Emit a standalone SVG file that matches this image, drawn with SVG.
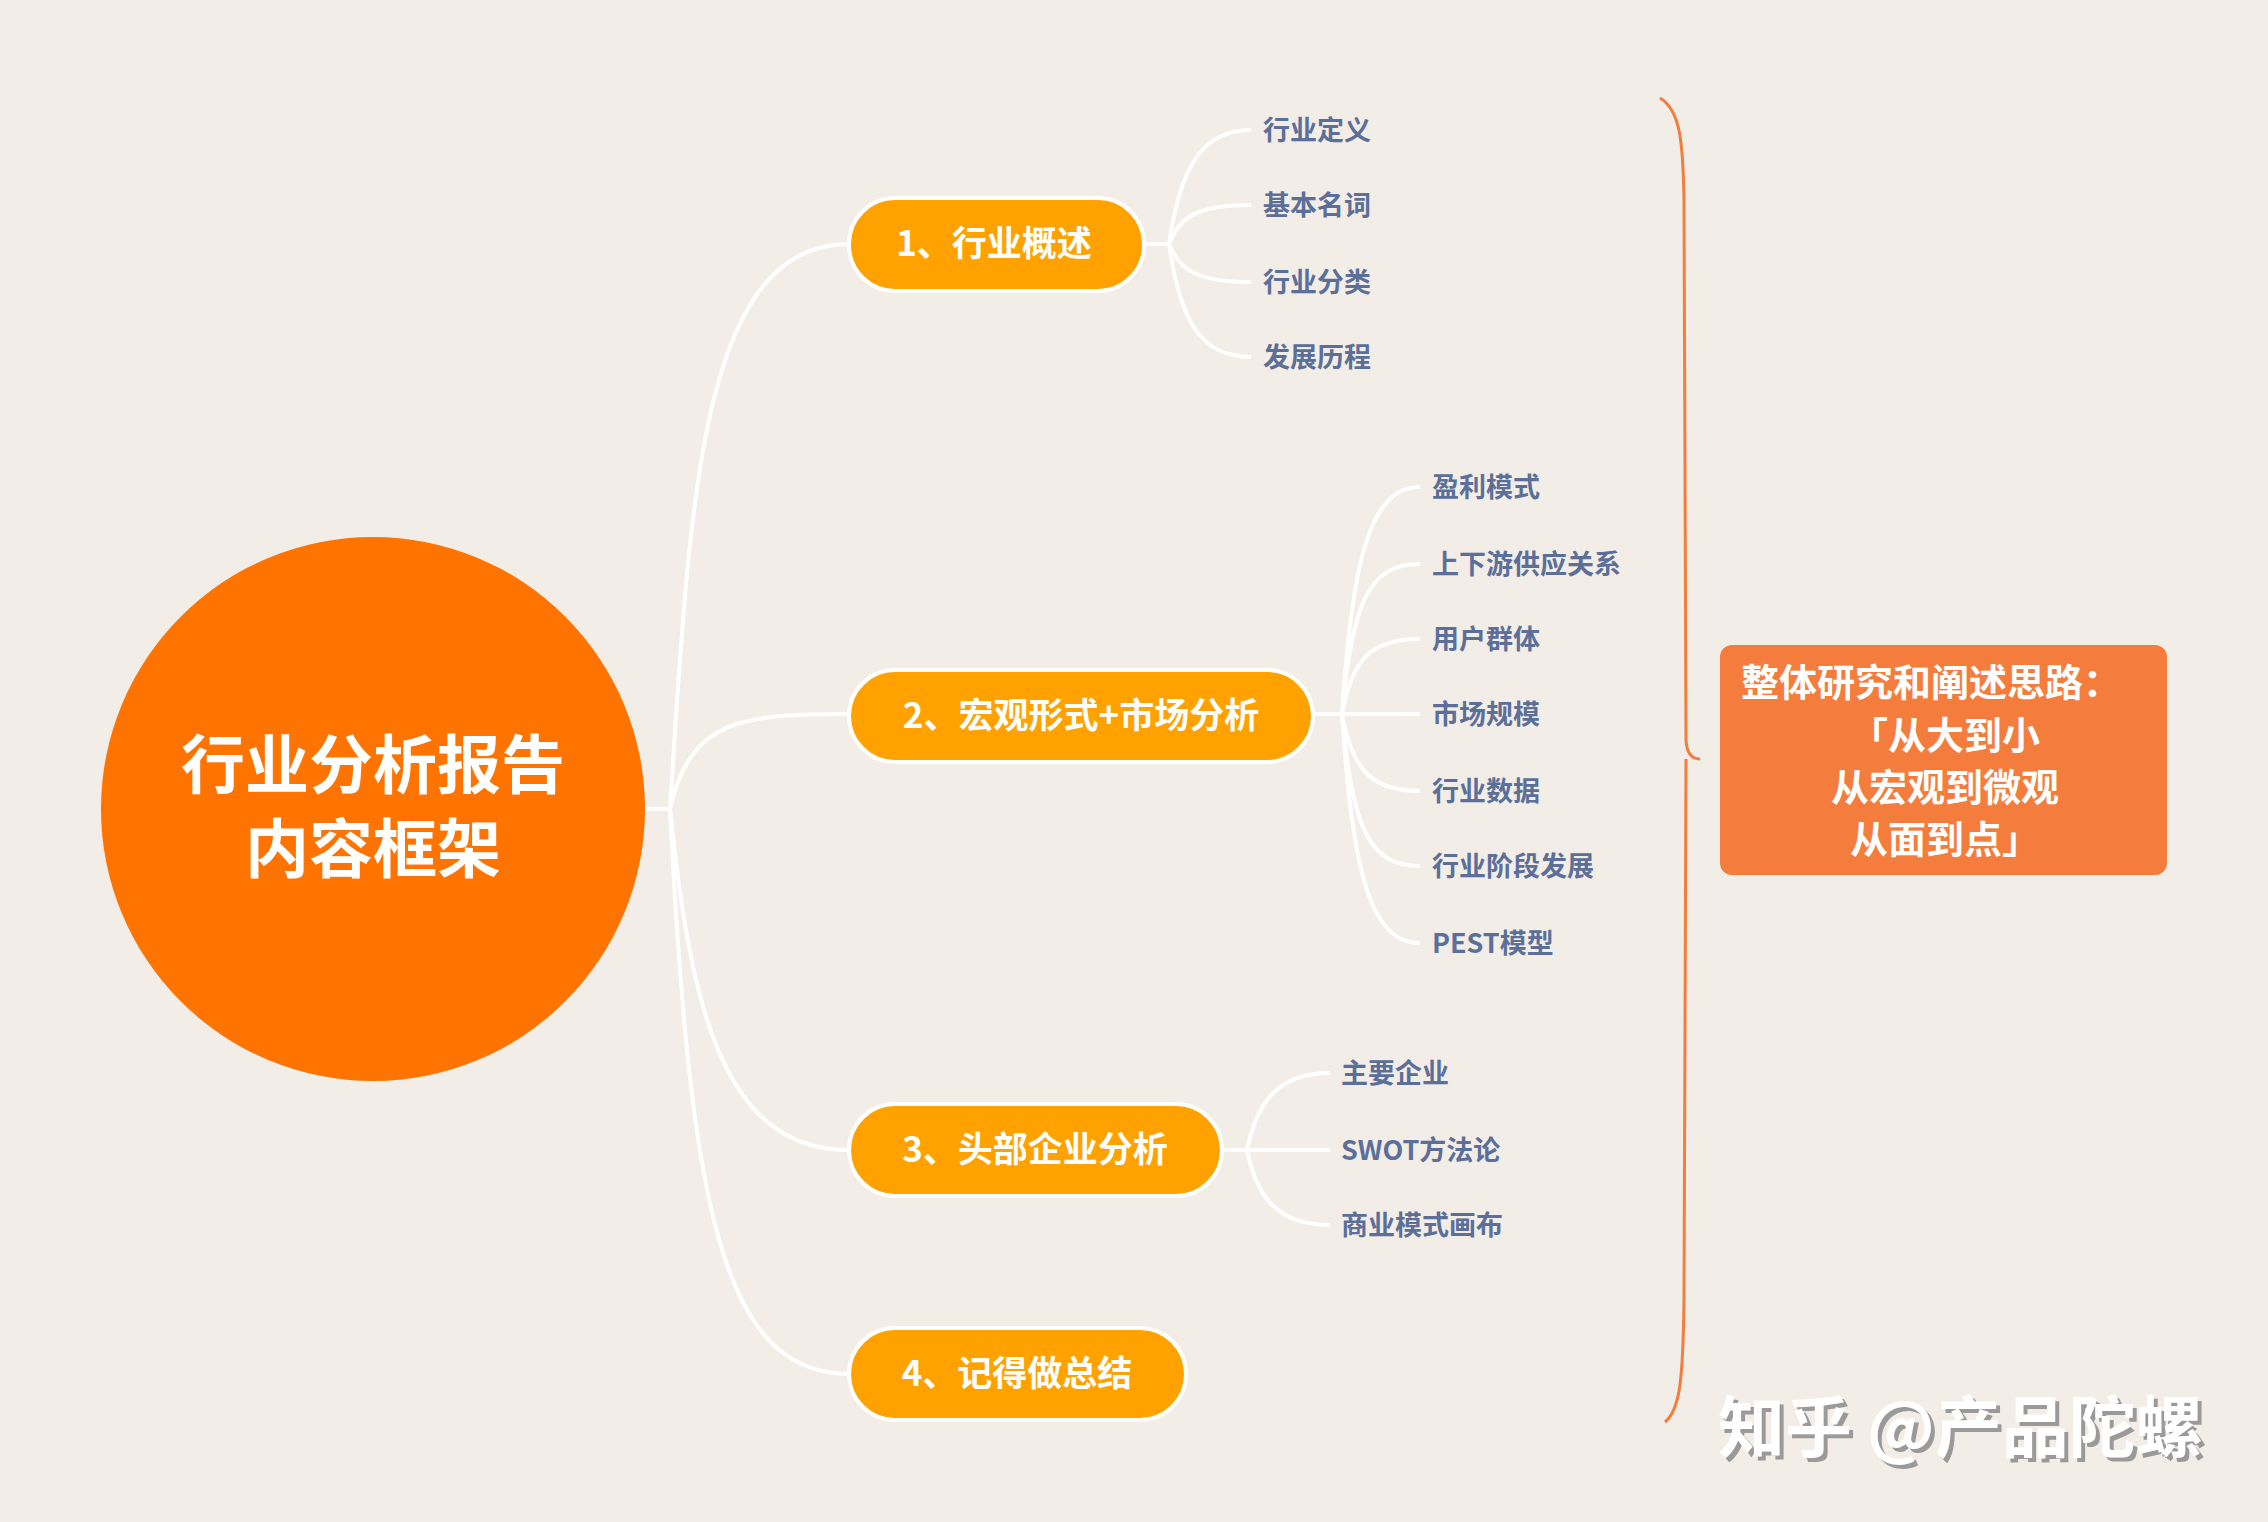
<svg xmlns="http://www.w3.org/2000/svg" width="2268" height="1522" viewBox="0 0 2268 1522">
<style>
text{font-family:"Noto Sans CJK SC","Noto Sans",sans-serif;font-weight:bold}
.pill{fill:#ffa200;stroke:#fff;stroke-width:4}
.pt{fill:#fff;font-size:35px;text-anchor:middle}
.ct{fill:#5b6f99;font-size:27px}
.ln{fill:none;stroke:#fff;stroke-width:4}
</style>
<rect width="2268" height="1522" fill="#f2ede6"/>
<g id="connectors">
<path class="ln" d="M645 809 H670 C690 500 700 244 849 244"/>
<path class="ln" d="M670 809 C690 720 740 714 849 714"/>
<path class="ln" d="M670 809 C690 1000 720 1150 849 1150"/>
<path class="ln" d="M670 809 C690 1200 720 1374 849 1374"/>
<path class="ln" d="M1144 244 H1169"/>
<path class="ln" d="M1169 244 C1180 170 1200 130 1251 130 M1169 244 C1180 215 1200 205 1251 205 M1169 244 C1180 272 1200 282 1251 282 M1169 244 C1180 320 1200 357 1251 357"/>
<path class="ln" d="M1313 714 H1342"/>
<path class="ln" d="M1342 714 C1352 560 1370 487 1420 487 M1342 714 C1352 600 1370 564 1420 564 M1342 714 C1352 660 1370 639 1420 639 M1342 714 H1420 M1342 714 C1352 768 1370 791 1420 791 M1342 714 C1352 830 1370 866 1420 866 M1342 714 C1352 870 1370 943 1420 943"/>
<path class="ln" d="M1222 1150 H1247"/>
<path class="ln" d="M1247 1150 C1257 1100 1280 1073 1330 1073 M1247 1150 H1330 M1247 1150 C1257 1200 1280 1225 1330 1225"/>
<path d="M1660 98 C1680 110 1683 140 1684 200 L1686 740 Q1687 759 1700 759 M1686 759 L1684 1300 C1683 1380 1680 1410 1665 1422" fill="none" stroke="#f47c3c" stroke-width="3"/>
</g>
<g id="root"><circle cx="373" cy="809" r="272" fill="#ff7300"/>
<text x="373" y="788" fill="#fff" font-size="64" text-anchor="middle">行业分析报告</text>
<text x="373" y="872" fill="#fff" font-size="64" text-anchor="middle">内容框架</text></g>
<g id="n1"><rect class="pill" x="849" y="198" width="295" height="93" rx="46"/><text class="pt" x="994" y="256">1、行业概述</text></g>
<g id="n2"><rect class="pill" x="849" y="670" width="464" height="92" rx="46"/><text class="pt" x="1081" y="728">2、宏观形式+市场分析</text></g>
<g id="n3"><rect class="pill" x="849" y="1104" width="373" height="92" rx="46"/><text class="pt" x="1035" y="1162">3、头部企业分析</text></g>
<g id="n4"><rect class="pill" x="849" y="1328" width="337" height="92" rx="46"/><text class="pt" x="1017" y="1386">4、记得做总结</text></g>
<g id="leaves">
<text class="ct" x="1263" y="140">行业定义</text>
<text class="ct" x="1263" y="215">基本名词</text>
<text class="ct" x="1263" y="292">行业分类</text>
<text class="ct" x="1263" y="367">发展历程</text>
<text class="ct" x="1432" y="497">盈利模式</text>
<text class="ct" x="1432" y="574">上下游供应关系</text>
<text class="ct" x="1432" y="649">用户群体</text>
<text class="ct" x="1432" y="724">市场规模</text>
<text class="ct" x="1432" y="801">行业数据</text>
<text class="ct" x="1432" y="876">行业阶段发展</text>
<text class="ct" x="1432" y="953">PEST模型</text>
<text class="ct" x="1341" y="1083">主要企业</text>
<text class="ct" x="1341" y="1160">SWOT方法论</text>
<text class="ct" x="1341" y="1235">商业模式画布</text>
</g>
<g id="summary"><rect x="1720" y="645" width="447" height="230" rx="12" fill="#f47c3c"/>
<g fill="#fff" font-size="38" text-anchor="middle">
<text x="1931" y="696">整体研究和阐述思路：</text>
<text x="1945" y="749">「从大到小</text>
<text x="1945" y="801">从宏观到微观</text>
<text x="1945" y="853">从面到点」</text></g></g>
<g id="watermark" font-size="67" font-weight="normal">
<text x="1722" y="1456" fill="#9a9a9a">知乎 @产品陀螺</text>
<text x="1718" y="1452" fill="#fff">知乎 @产品陀螺</text></g>
</svg>
